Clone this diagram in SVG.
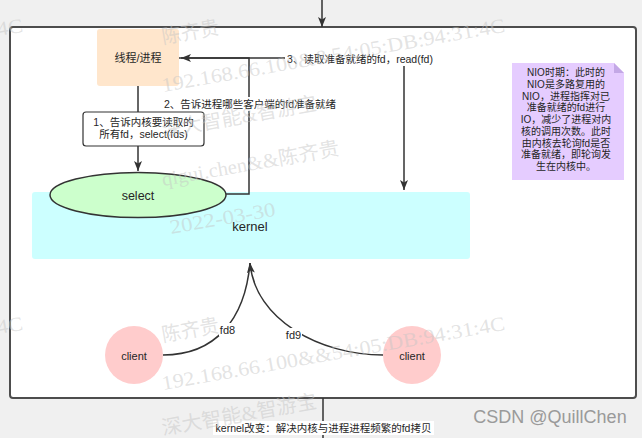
<svg xmlns="http://www.w3.org/2000/svg" xmlns:xlink="http://www.w3.org/1999/xlink" width="642" height="438" viewBox="0 0 642 438">
<style>
.t{font-family:"Liberation Sans","Noto Sans CJK SC",sans-serif;fill:#262626;text-anchor:middle;dominant-baseline:central}
.e{fill:none;stroke:#333;stroke-width:1.5}
.lbl{fill:#fff}
.wm{font-family:"Liberation Serif","Noto Sans CJK SC",serif;font-size:20px;fill:#c4c4c4;fill-opacity:.48}
</style>
<defs>
<marker id="arr" markerUnits="userSpaceOnUse" markerWidth="11" markerHeight="9" refX="10" refY="4.5" orient="auto">
<path d="M0,0.5 L10,4.5 L0,8.5 L2.5,4.5 Z" fill="#333"/>
</marker>
<g id="wm">
<text class="wm" x="163" y="44" textLength="58" lengthAdjust="spacingAndGlyphs" transform="rotate(-10 163 44)">陈齐贵</text>
<text class="wm" x="163" y="92" textLength="348" lengthAdjust="spacingAndGlyphs" transform="rotate(-10 163 92)">192.168.66.100&amp;&amp;54:05:DB:94:31:4C</text>
<text class="wm" x="163" y="137" textLength="157" lengthAdjust="spacingAndGlyphs" transform="rotate(-10 163 137)">深大智能&amp;智游宝</text>
<text class="wm" x="163" y="186" textLength="180" lengthAdjust="spacingAndGlyphs" transform="rotate(-10 163 186)">qigui.chen&amp;&amp;陈齐贵</text>
<text class="wm" x="171" y="234" textLength="107" lengthAdjust="spacingAndGlyphs" transform="rotate(-10 171 234)">2022-03-30</text>
</g>
</defs>
<rect x="0" y="0" width="642" height="438" fill="#f0f0f0"/>
<g id="frame">
<rect x="10" y="27" width="626" height="371" rx="3" fill="#fff" stroke="#4d4d4d" stroke-width="2"/>
</g>
<g id="kernel">
<rect x="32" y="192" width="438" height="67" rx="3" fill="#ccffff"/>
<text class="t" x="250" y="226" font-size="13">kernel</text>
</g>
<g id="thread">
<rect x="97" y="29" width="82" height="57" rx="3" fill="#ffe6cc"/>
<text class="t" x="138" y="58" font-size="11">线程/进程</text>
</g>
<g id="connectors">
<path class="e" d="M322,0 L322,27" marker-end="url(#arr)" stroke-width="2"/>
<path class="e" d="M323,398 L323,438" stroke-width="2"/>
<path class="e" d="M138,86 L138,171" marker-end="url(#arr)"/>
<path class="e" d="M226,194 L249,194 L249,58 L181,58" marker-end="url(#arr)"/>
<path class="e" d="M179,58 L404,58 L404,190" marker-end="url(#arr)"/>
<path class="e" d="M163,355 C215,355 245,320 250,263"/>
<path class="e" d="M383,355 C320,355 255,320 250,263" marker-end="url(#arr)"/>
<g id="label1">
<rect x="83" y="112" width="121" height="34" rx="3" fill="#fff" stroke="#333" stroke-width="1.2"/>
<text class="t" x="143.5" y="122" font-size="10.5">1、告诉内核要读取的</text>
<text class="t" x="143.5" y="134" font-size="10.5">所有fd，select(fds)</text>
</g>
<g id="label2">
<rect class="lbl" x="164" y="97" width="172" height="14"/>
<text class="t" x="250" y="104" font-size="10.5">2、告诉进程哪些客户端的fd准备就绪</text>
</g>
<g id="label3">
<rect class="lbl" x="285" y="51" width="150" height="15"/>
<text class="t" x="360" y="58.5" font-size="10.5">3、读取准备就绪的fd，read(fd)</text>
</g>
<g id="labelfd8">
<rect class="lbl" x="219" y="323" width="17" height="13"/>
<text class="t" x="227.5" y="329.5" font-size="11">fd8</text>
</g>
<g id="labelfd9">
<rect class="lbl" x="285" y="328" width="17" height="13"/>
<text class="t" x="293.5" y="334.5" font-size="11">fd9</text>
</g>
<g id="labelbottom">
<rect class="lbl" x="213" y="421" width="221" height="14"/>
<text class="t" x="323.5" y="428" font-size="10.5">kernel改变：解决内核与进程进程频繁的fd拷贝</text>
</g>
</g>
<g id="select">
<ellipse cx="138" cy="195" rx="88" ry="22.5" fill="#ccffcc" stroke="#333" stroke-width="1.5"/>
<text class="t" x="138" y="196" font-size="12.5">select</text>
</g>
<g id="client1">
<circle cx="134" cy="355" r="29" fill="#ffcccc"/>
<text class="t" x="134" y="356" font-size="11">client</text>
</g>
<g id="client2">
<circle cx="412" cy="355" r="29" fill="#ffcccc"/>
<text class="t" x="412" y="356" font-size="11">client</text>
</g>
<g id="note">
<path d="M512,63 L614,63 L624,73 L624,180 L512,180 Z" fill="#e5ccff"/>
<path d="M614,63 L624,73 L614,73 Z" fill="#c3a8e6"/>
<g class="t" font-size="10">
<text x="566" y="72.7">NIO时期：此时的</text>
<text x="566" y="84.45">NIO是多路复用的</text>
<text x="566" y="96.2">NIO，进程指挥对已</text>
<text x="566" y="107.95">准备就绪的fd进行</text>
<text x="566" y="119.7">IO，减少了进程对内</text>
<text x="566" y="131.45">核的调用次数。此时</text>
<text x="566" y="143.2">由内核去轮询fd是否</text>
<text x="566" y="154.95">准备就绪，即轮询发</text>
<text x="566" y="166.7">生在内核中。</text>
</g>
</g>
<g id="watermark">
<use xlink:href="#wm"/>
<use xlink:href="#wm" y="298"/>
<use xlink:href="#wm" x="-482"/>
<use xlink:href="#wm" x="-482" y="298"/>
<text x="550" y="423" font-family="Liberation Sans,sans-serif" font-size="18" fill="#9a9a9a" text-anchor="middle">CSDN @QuillChen</text>
</g>
</svg>
